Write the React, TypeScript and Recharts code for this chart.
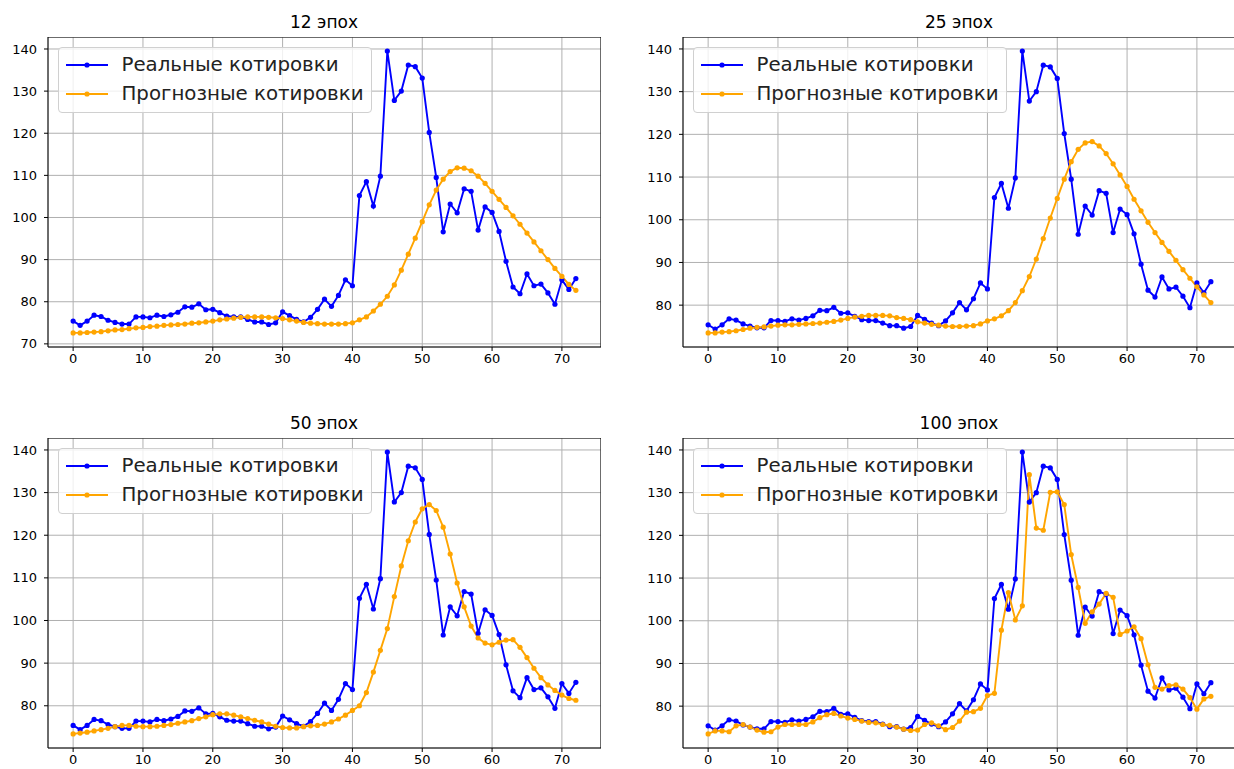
import React from 'react';
import { CartesianGrid, Line, LineChart, ReferenceArea, XAxis, YAxis } from 'recharts';

// real quotes, same in every panel
const realQuotes = [
  75.4, 74.4, 75.4, 76.8, 76.5, 75.6, 75.1, 74.7, 74.7, 76.4,
  76.4, 76.2, 76.8, 76.5, 76.9, 77.5, 78.8, 78.7, 79.5, 78.1,
  78.2, 77.4, 76.6, 76.4, 76.4, 75.8, 75.2, 75.2, 74.6, 75.0,
  77.6, 76.7, 75.8, 75.2, 76.3, 78.2, 80.6, 78.9, 81.5, 85.2,
  83.8, 105.2, 108.5, 102.7, 109.8, 139.5, 127.8, 130.0, 136.2, 135.8,
  133.1, 120.2, 109.5, 96.6, 103.2, 101.1, 106.8, 106.2, 97.0, 102.5,
  101.2, 96.7, 89.6, 83.5, 81.9, 86.6, 83.8, 84.2, 82.1, 79.4,
  85.2, 82.9, 85.5,
];

const forecast12 = [
  72.6, 72.6, 72.7, 72.8, 72.9, 73.1, 73.3, 73.4, 73.6, 73.8,
  73.9, 74.1, 74.2, 74.4, 74.5, 74.6, 74.7, 74.9, 75.0, 75.2,
  75.4, 75.7, 75.9, 76.1, 76.3, 76.4, 76.4, 76.4, 76.3, 76.2,
  76.0, 75.7, 75.4, 75.1, 74.9, 74.8, 74.7, 74.7, 74.7, 74.8,
  75.0, 75.7, 76.4, 77.8, 79.4, 81.3, 84.0, 87.5, 91.3, 95.1,
  99.0, 103.0, 106.5, 109.1, 110.9, 111.8, 111.7, 111.1, 109.8, 108.1,
  106.2, 104.3, 102.4, 100.4, 98.4, 96.3, 94.2, 92.1, 90.0, 87.9,
  86.0, 84.1, 82.7,
];

const forecast25 = [
  73.5, 73.5, 73.7, 73.8, 74.0, 74.3, 74.6, 74.8, 74.9, 75.1,
  75.3, 75.4, 75.4, 75.5, 75.6, 75.7, 75.8, 76.0, 76.2, 76.5,
  76.9, 77.2, 77.4, 77.6, 77.6, 77.6, 77.5, 77.1, 76.9, 76.6,
  76.1, 75.8, 75.5, 75.3, 75.1, 75.0, 75.0, 75.1, 75.2, 75.6,
  76.3, 76.8, 77.5, 78.7, 80.6, 83.4, 86.7, 90.8, 95.6, 100.4,
  105.0, 109.5, 113.6, 116.5, 118.0, 118.3, 117.3, 115.5, 113.1, 110.5,
  107.8, 104.8, 102.1, 99.4, 97.0, 94.7, 92.6, 90.5, 88.3, 86.3,
  84.3, 82.4, 80.6,
];

const forecast50 = [
  73.4, 73.6, 73.8, 74.1, 74.4, 74.7, 75.1, 75.4, 75.4, 75.2,
  75.1, 75.1, 75.2, 75.4, 75.6, 75.9, 76.2, 76.5, 77.0, 77.4,
  77.9, 78.1, 78.1, 77.8, 77.4, 77.0, 76.6, 76.2, 75.7, 75.2,
  74.9, 74.8, 74.8, 75.1, 75.3, 75.4, 75.7, 76.2, 76.9, 77.8,
  78.9, 80.0, 83.1, 87.9, 93.0, 98.1, 105.6, 112.8, 118.7, 123.1,
  126.2, 127.2, 125.8, 121.9, 115.6, 108.8, 103.2, 98.7, 95.9, 94.7,
  94.3, 94.9, 95.4, 95.5, 93.7, 91.3, 88.8, 86.6, 84.9, 83.6,
  82.5, 81.7, 81.3,
];

const forecast100 = [
  73.5, 74.2, 74.2, 74.0, 75.4, 75.7, 75.1, 74.4, 73.9, 74.0,
  75.1, 75.7, 75.7, 75.7, 75.7, 76.3, 77.3, 78.0, 78.3, 77.7,
  77.2, 76.9, 76.5, 76.2, 76.1, 75.7, 75.5, 75.1, 74.6, 74.3,
  74.4, 75.7, 76.1, 75.4, 74.5, 75.0, 76.5, 78.6, 78.7, 79.5,
  82.5, 83.0, 97.8, 106.6, 100.2, 103.5, 134.2, 121.7, 121.2, 130.1,
  130.2, 127.2, 115.5, 107.8, 99.4, 102.1, 103.9, 106.4, 105.5, 96.8,
  97.6, 98.6, 95.8, 89.7, 84.4, 84.0, 84.8, 85.0, 84.0, 82.0,
  79.3, 81.7, 82.3,
];

const xTicks = [0, 10, 20, 30, 40, 50, 60, 70];
const yTicks = [70, 80, 90, 100, 110, 120, 130, 140];
const labelReal = 'Реальные котировки';
const labelForecast = 'Прогнозные котировки';

const FONT = '"DejaVu Sans", sans-serif';
const BLUE = '#0000ff';
const ORANGE = '#ffa500';
const PLOT_W = 553;
const PLOT_H = 310;
const Y_AXIS_W = 47;

function LegendSample({ color }: { color: string }) {
  return (
    <svg width={44} height={10} style={{ display: 'block' }}>
      <line x1={1} y1={5} x2={43} y2={5} stroke={color} strokeWidth={1.8} />
      <circle cx={22} cy={5} r={2.6} fill={color} />
    </svg>
  );
}

function LegendBox({ left, top }: { left: number; top: number }) {
  const sample = (color: string, y: number) => (
    <div style={{ position: 'absolute', left: 6, top: y - 5 }}>
      <LegendSample color={color} />
    </div>
  );
  const text = (label: string, y: number) => (
    <div style={{ position: 'absolute', left: 63, top: y - 12, lineHeight: '24px', whiteSpace: 'nowrap' }}>
      {label}
    </div>
  );
  return (
    <div
      style={{
        position: 'absolute',
        left,
        top,
        width: 314,
        height: 66,
        border: '1px solid #d0d0d0',
        borderRadius: 4,
        background: 'rgba(255,255,255,0.8)',
        boxSizing: 'border-box',
        fontFamily: FONT,
        fontSize: 19.8,
        color: '#222',
      }}
    >
      {sample(BLUE, 17)}
      {sample(ORANGE, 46)}
      {text(labelReal, 17)}
      {text(labelForecast, 46)}
    </div>
  );
}

function Panel(props: { title: string; forecast: number[]; left: number; top: number }) {
  const { title, forecast, left, top } = props;
  const rows = realQuotes.map((v, i) => ({ x: i, real: v, forecast: forecast[i] }));
  const all = [...realQuotes, ...forecast];
  const lo = Math.min(...all);
  const hi = Math.max(...all);
  const pad = (hi - lo) * 0.05;
  const yDomain: [number, number] = [lo - pad, hi + pad];
  const xDomain: [number, number] = [-0.05 * 72, 72 * 1.05];
  const ticksY = yTicks.filter((t) => t >= yDomain[0] && t <= yDomain[1]);

  return (
    <>
      <div
        style={{
          position: 'absolute',
          left,
          top: top - 24,
          width: PLOT_W,
          textAlign: 'center',
          fontFamily: FONT,
          fontSize: 17,
          lineHeight: '18px',
          color: '#000',
        }}
      >
        {title}
      </div>
      <div style={{ position: 'absolute', left: left - Y_AXIS_W, top }}>
        <LineChart
          width={Y_AXIS_W + PLOT_W}
          height={PLOT_H + 30}
          data={rows}
          margin={{ top: 0, right: 0, bottom: 0, left: 0 }}
        >
          <CartesianGrid stroke="#b0b0b0" strokeWidth={1} />
          <XAxis
            dataKey="x"
            type="number"
            domain={xDomain}
            ticks={xTicks}
            interval={0}
            allowDataOverflow
            height={30}
            axisLine={false}
            tickSize={4}
            tickMargin={3}
            tickLine={{ stroke: '#000' }}
            tick={{ fill: '#000', fontSize: 13, fontFamily: FONT }}
          />
          <YAxis
            type="number"
            domain={yDomain}
            ticks={ticksY}
            interval={0}
            allowDataOverflow
            width={Y_AXIS_W}
            axisLine={false}
            tickSize={4}
            tickMargin={7}
            tickLine={{ stroke: '#000' }}
            tick={{ fill: '#000', fontSize: 13, fontFamily: FONT }}
          />
          <ReferenceArea
            x1={xDomain[0]}
            x2={xDomain[1]}
            y1={yDomain[0]}
            y2={yDomain[1]}
            fill="none"
            stroke="#000"
            strokeWidth={1}
            ifOverflow="visible"
          />
          <Line
            type="linear"
            dataKey="real"
            stroke={BLUE}
            strokeWidth={1.9}
            dot={{ r: 2.6, fill: BLUE, stroke: BLUE, strokeWidth: 0 }}
            activeDot={false}
            isAnimationActive={false}
          />
          <Line
            type="linear"
            dataKey="forecast"
            stroke={ORANGE}
            strokeWidth={1.9}
            dot={{ r: 2.6, fill: ORANGE, stroke: ORANGE, strokeWidth: 0 }}
            activeDot={false}
            isAnimationActive={false}
          />
        </LineChart>
      </div>
      <LegendBox left={left + 10} top={top + 10.5} />
    </>
  );
}

export default function App() {
  return (
    <div
      style={{
        position: 'absolute',
        left: 0,
        top: 0,
        width: 1234,
        height: 769,
        overflow: 'hidden',
        background: '#fff',
      }}
    >
      <Panel title="12 эпох" forecast={forecast12} left={47.5} top={36.5} />
      <Panel title="25 эпох" forecast={forecast25} left={682.5} top={36.5} />
      <Panel title="50 эпох" forecast={forecast50} left={47.5} top={437.5} />
      <Panel title="100 эпох" forecast={forecast100} left={682.5} top={437.5} />
    </div>
  );
}
